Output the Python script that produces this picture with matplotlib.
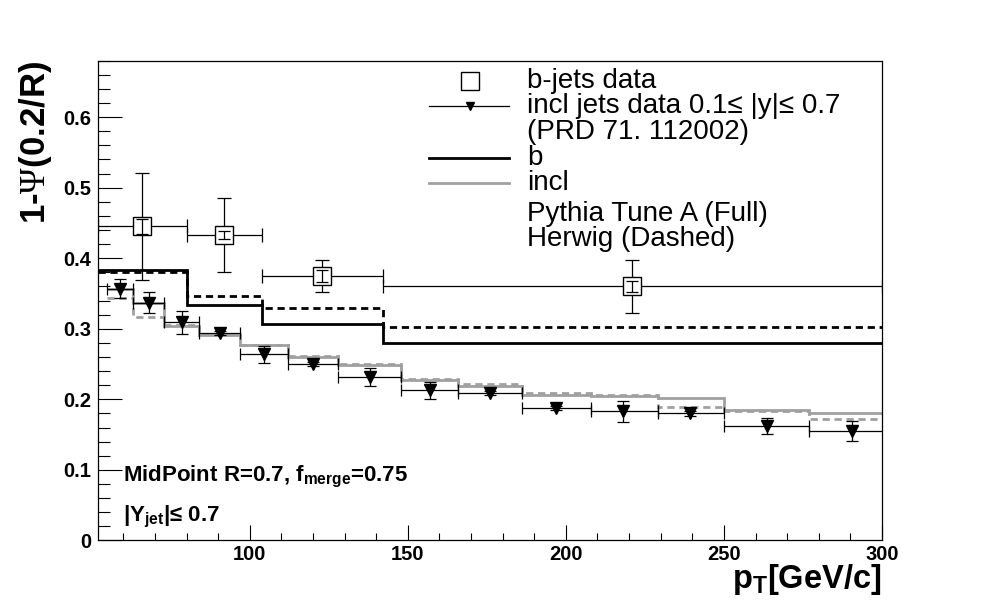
import matplotlib
matplotlib.use('Agg')
import matplotlib.pyplot as plt
from matplotlib.ticker import MultipleLocator, FuncFormatter
from matplotlib.lines import Line2D
import numpy as np

plt.rcParams['font.family'] = ['Liberation Sans', 'DejaVu Sans']
plt.rcParams['mathtext.fontset'] = 'custom'
plt.rcParams['mathtext.sf'] = 'Liberation Serif'
plt.rcParams['mathtext.default'] = 'regular'

# ---------------- data ----------------
# b-jets data (CDF)
bjet_x = [66, 92, 123, 221]
bjet_xlo = [52, 80, 104, 142]
bjet_xhi = [80, 104, 142, 300]
bjet_y = [0.445, 0.433, 0.375, 0.360]
bjet_err_tot = [0.076, 0.052, 0.023, 0.037]
bjet_err_stat = [0.010, 0.006, 0.009, 0.008]

# inclusive jets data (PRD 71, 112002)
incl_edges = [55, 63, 73, 84, 97, 112, 128, 148, 166, 186, 208, 229, 250, 277, 304]
incl_x = [59, 68, 78.6, 90.5, 104.5, 120, 138, 157, 176, 197, 218, 239.3, 263.5, 290.5]
incl_y = [0.357, 0.337, 0.309, 0.294, 0.264, 0.250, 0.232, 0.213, 0.209, 0.188, 0.183, 0.180, 0.162, 0.155]
incl_err = [0.013, 0.015, 0.016, 0.003, 0.012, 0.003, 0.013, 0.012, 0.003, 0.003, 0.015, 0.003, 0.011, 0.014]

# MC predictions
b_edges = [52, 80, 104, 142, 300]
pythia_b = [0.3826, 0.333, 0.307, 0.280]
herwig_b = [0.381, 0.347, 0.3297, 0.302]
pythia_incl = [0.357, 0.336, 0.304, 0.2905, 0.2764, 0.260, 0.248, 0.228, 0.2185, 0.2057, 0.2045, 0.2024, 0.1854, 0.180]
herwig_incl = [0.343, 0.3165, 0.306, 0.292, 0.277, 0.261, 0.2505, 0.229, 0.222, 0.2094, 0.2065, 0.189, 0.1835, 0.1727]

# ---------------- figure ----------------
W, H = 981, 602
fig = plt.figure(figsize=(W / 100, H / 100), dpi=100)
ax = fig.add_axes([98 / W, 1 - 540.4 / H, 784 / W, (540.4 - 60.7) / H])

GRAY = '#a0a0a0'
dash = (0, (2.6, 1.7))

ax.stairs(herwig_incl, incl_edges, baseline=None, color=GRAY, lw=2, linestyle=dash, zorder=2)
ax.stairs(pythia_incl, incl_edges, baseline=None, color=GRAY, lw=2, zorder=2.1)
ax.stairs(herwig_b, b_edges, baseline=None, color='black', lw=2, linestyle=dash, zorder=2.2)
ax.stairs(pythia_b, b_edges, baseline=None, color='black', lw=2, zorder=2.3)

# inclusive jets data
ix = np.array(incl_x)
ie = np.array(incl_edges)
xlo = ix - ie[:-1]
xhi = ie[1:] - ix
ax.errorbar(incl_x, incl_y, xerr=[xlo, xhi], yerr=incl_err, fmt='v', color='black',
            ms=8.5, elinewidth=0.9, capsize=4, capthick=0.9, zorder=4)

# b-jets data
bx = np.array(bjet_x)
ax.errorbar(bjet_x, bjet_y, xerr=[bx - np.array(bjet_xlo), np.array(bjet_xhi) - bx],
            yerr=bjet_err_tot, fmt='none', ecolor='black', elinewidth=0.9,
            capsize=5, capthick=0.9, zorder=4)
ax.plot(bjet_x, bjet_y, 's', ms=12.5, mfc='white', mec='black', mew=1.0, zorder=5)
ax.errorbar(bjet_x, bjet_y, yerr=bjet_err_stat, fmt='none', ecolor='black',
            elinewidth=0.9, capsize=4, capthick=0.9, zorder=6)

ax.set_xlim(52, 300)
ax.set_ylim(0, 0.68)
ax.xaxis.set_major_locator(MultipleLocator(50))
ax.xaxis.set_minor_locator(MultipleLocator(10))
ax.yaxis.set_major_locator(MultipleLocator(0.1))
ax.yaxis.set_minor_locator(MultipleLocator(0.02))
ax.yaxis.set_major_formatter(FuncFormatter(lambda v, p: '0' if abs(v) < 1e-9 else '%.1f' % v))
ax.xaxis.set_major_formatter(FuncFormatter(lambda v, p: '%d' % v))
ax.tick_params(axis='y', which='major', direction='in', length=17, width=0.8, labelsize=14.5, pad=5)
ax.tick_params(axis='y', which='minor', direction='in', length=8.6, width=0.8)
ax.tick_params(axis='x', which='major', direction='in', length=10.8, width=0.8, labelsize=14.5, pad=3)
ax.tick_params(axis='x', which='minor', direction='in', length=5.4, width=0.8)
for lab in ax.get_xticklabels() + ax.get_yticklabels():
    lab.set_fontweight('bold')
for s in ax.spines.values():
    s.set_linewidth(0.9)

# axis titles
fig.text(36 / W, 1 - 61 / H, '1-$\\mathsf{\\Psi}$(0.2/R)', rotation=90, ha='center', va='top',
         fontsize=25, fontweight='bold')
fig.text(882 / W, 1 - 588 / H, 'p$_{T}$[GeV/c]', ha='right', va='baseline',
         fontsize=23.5, fontweight='bold')

# annotations
fig.text(123 / W, 1 - 481.7 / H, 'MidPoint R=0.7, f$_{merge}$=0.75', ha='left', va='baseline',
         fontsize=16, fontweight='bold')
fig.text(123 / W, 1 - 521.7 / H, '|Y$_{jet}$|\u2264 0.7', ha='left', va='baseline',
         fontsize=16, fontweight='bold')

# legend (drawn manually, ROOT style, no frame)
rows = [80.7, 106, 131.7, 158.3, 183.3, 214, 239.5]
texts = ['b-jets data', 'incl jets data 0.1\u2264 |y|\u2264 0.7', '(PRD 71. 112002)', 'b', 'incl',
         'Pythia Tune A (Full)', 'Herwig (Dashed)']
tx = 527 / W
for r, t in zip(rows, texts):
    fig.text(tx, 1 - r / H, t, ha='left', va='center', fontsize=20, fontweight='normal')
lx0, lx1, lxm = 429 / W, 509 / W, 470 / W
fig.add_artist(Line2D([lxm], [1 - rows[0] / H], marker='s', ms=13, mfc='white', mec='black',
                      mew=1.0, ls='none'))
fig.add_artist(Line2D([lx0, lx1], [1 - rows[1] / H] * 2, color='black', lw=0.9))
fig.add_artist(Line2D([lxm], [1 - rows[1] / H], marker='v', ms=6, color='black', ls='none'))
fig.add_artist(Line2D([lx0, lx1], [1 - rows[3] / H] * 2, color='black', lw=2))
fig.add_artist(Line2D([lx0, lx1], [1 - rows[4] / H] * 2, color=GRAY, lw=2))

fig.savefig('out.png', dpi=100)
